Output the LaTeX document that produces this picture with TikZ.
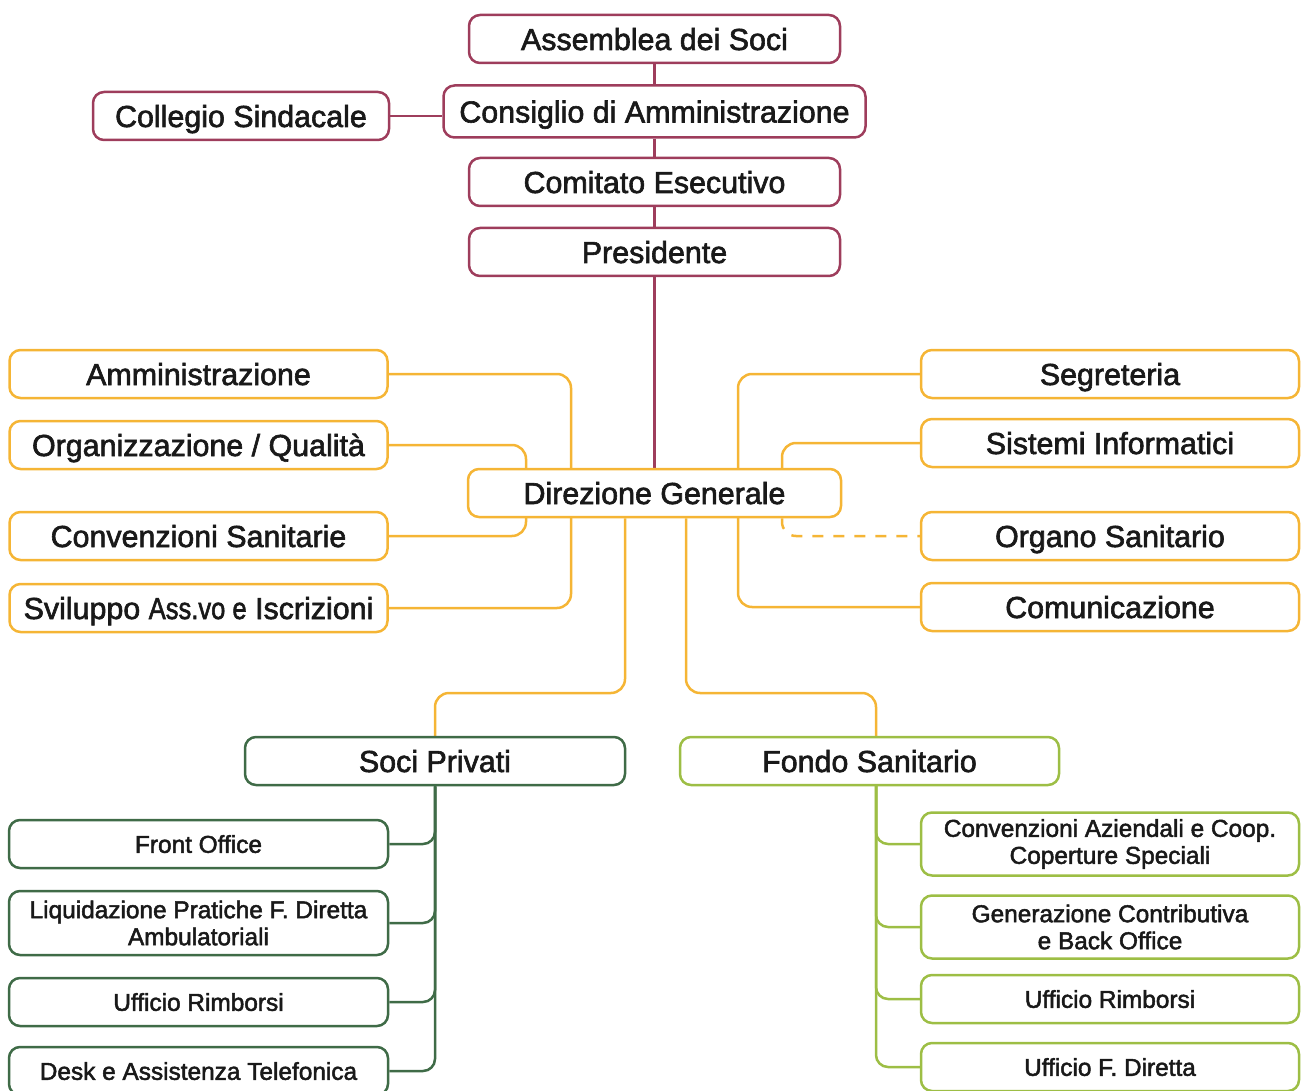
\documentclass[tikz,border=0pt]{standalone}
\usepackage{fontspec}
\setmainfont{Liberation Sans}
\newfontfamily\medium{Liberation Sans}[FakeBold=2]
\usepackage{graphicx}
\usepackage{tikz}
\usetikzlibrary{positioning,backgrounds}
\usepackage{xcolor}
\definecolor{maroon}{HTML}{9E3D5C}
\definecolor{gold}{HTML}{F5B535}
\definecolor{darkgreen}{HTML}{3F6B47}
\definecolor{lightgreen}{HTML}{9DBE45}

\begin{document}
\begin{tikzpicture}[
    x=1pt, y=-1pt,
    box/.style={draw, fill=white, line width=2.5pt, rounded corners=11pt, minimum height=48pt, inner sep=0pt, align=center, text=black!90},
    big/.style={box, font=\medium\fontsize{30.4}{34}\selectfont, text height=22pt, text depth=0pt},
    small/.style={box, font=\medium\fontsize{24.4}{27}\selectfont},
    one/.style={text height=17.6pt, text depth=0pt},
    redbox/.style={big, draw=maroon, minimum width=371pt},
    orgbox/.style={big, draw=gold, minimum width=378pt},
    link/.style={line width=2.5pt, rounded corners=14pt},
]
\useasboundingbox (0,0) rectangle (1304,1091);

% Top
\node[redbox] (assemblea) at (654.5,39) {Assemblea dei Soci};
\node[redbox, below=20pt of assemblea, minimum width=422pt, minimum height=52pt] (consiglio) {Consiglio di Amministrazione};
\node[redbox, minimum width=296pt] (collegio) at (241,116) {Collegio Sindacale};
\node[redbox, below=18pt of consiglio] (comitato) {Comitato Esecutivo};
\node[redbox, below=19.5pt of comitato] (presidente) {Presidente};

% Direzione
\node[orgbox, minimum width=373pt] (dg) at (654.5,493) {Direzione Generale};

% Left staff
\node[orgbox] (amm) at (198.5,374) {Amministrazione};
\node[orgbox] (org) at (198.5,445) {Organizzazione / Qualità};
\node[orgbox] (conv) at (198.5,536) {Convenzioni Sanitarie};
\node[orgbox] (svil) at (198.5,608) {Sviluppo \scalebox{0.84}[1]{Ass.vo e} Iscrizioni};

% Right staff
\node[orgbox] (segr) at (1110,374) {Segreteria};
\node[orgbox] (sist) at (1110,443) {Sistemi Informatici};
\node[orgbox] (organo) at (1110,536) {Organo Sanitario};
\node[orgbox] (comu) at (1110,607) {Comunicazione};

% Areas
\node[big, draw=darkgreen, minimum width=380pt] (sp) at (435,761) {Soci Privati};
\node[big, draw=lightgreen, minimum width=379pt] (fs) at (869.5,761) {Fondo Sanitario};

% Soci Privati offices
\node[small, one, draw=darkgreen, minimum width=379pt] (front) at (198.5,844) {Front Office};
\node[small, draw=darkgreen, minimum width=379pt, minimum height=64pt] (liq) at (198.5,923) {Liquidazione Pratiche F. Diretta\\Ambulatoriali};
\node[small, one, draw=darkgreen, minimum width=379pt] (rimbsp) at (198.5,1002) {Ufficio Rimborsi};
\node[small, one, draw=darkgreen, minimum width=379pt] (desk) at (198.5,1071) {Desk e Assistenza Telefonica};

% Fondo Sanitario offices
\node[small, draw=lightgreen, minimum width=378pt, minimum height=63pt] (aziende) at (1110,844) {Convenzioni Aziendali e Coop.\\Coperture Speciali};
\node[small, draw=lightgreen, minimum width=378pt, minimum height=63pt] (contrib) at (1110,927) {Generazione Contributiva\\e Back Office};
\node[small, one, draw=lightgreen, minimum width=378pt] (rimbfs) at (1110,999) {Ufficio Rimborsi};
\node[small, one, draw=lightgreen, minimum width=378pt] (diretta) at (1110,1067) {Ufficio F. Diretta};

% Bends
\coordinate (lout) at (571,493);
\coordinate (lin) at (526,493);
\coordinate (rout) at (738,493);
\coordinate (rin) at (782,493);
\coordinate (bl) at (625,693);
\coordinate (br) at (686,693);
\coordinate (fstrunk) at (876,785);

% Connectors
\begin{scope}[on background layer]
\draw[link, maroon] (assemblea) -- (consiglio);
\draw[link, maroon] (consiglio) -- (comitato);
\draw[link, maroon] (comitato) -- (presidente);
\draw[link, maroon] (collegio) -- (collegio -| consiglio.west);
\draw[link, maroon] (presidente) -- (dg);

\draw[link, gold] (amm.east) -| (lout) |- (svil.east);
\draw[link, gold] (org.east) -| (lin) |- (conv.east);
\draw[link, gold] (segr.west) -| (rout) |- (comu.west);
\draw[link, gold] (sist.west) -| (rin |- dg.north);
\draw[link, gold, dash pattern=on 11pt off 10pt] (rin |- dg.south) |- (organo.west);

\draw[link, gold] (bl |- dg.south) -- (bl) -| (sp.north);
\draw[link, gold] (br |- dg.south) -- (br) -| (fstrunk |- fs.north);

\draw[link, darkgreen, rounded corners=12pt] (sp.south) |- (desk.east);
\foreach \n in {front, liq, rimbsp}
  \draw[link, darkgreen, rounded corners=12pt] (\n.east) -| (sp.south);

\draw[link, lightgreen, rounded corners=12pt] (fstrunk) |- (diretta.west);
\foreach \n in {aziende, contrib, rimbfs}
  \draw[link, lightgreen, rounded corners=12pt] (\n.west) -| (fstrunk);
\end{scope}

\end{tikzpicture}
\end{document}
